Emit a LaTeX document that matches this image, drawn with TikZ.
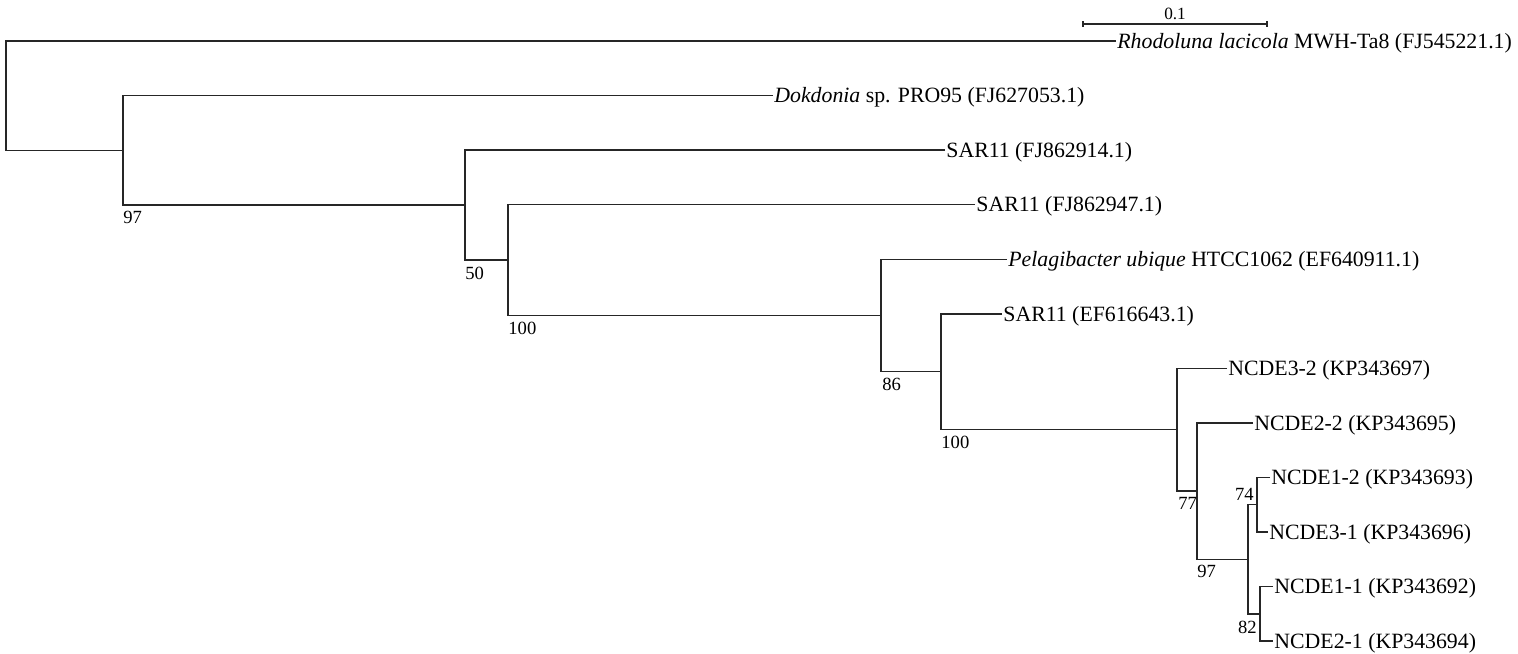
\documentclass[tikz,border=0pt]{standalone}
\usepackage{fontspec}
\setmainfont{Liberation Serif}
\begin{document}
\begin{tikzpicture}[x=0.5pt,y=-0.5pt,
  br/.style={line width=0.7pt,black!85},
  leaf/.style={anchor=base west,inner sep=0pt,xshift=0.5pt,yshift=-3.6pt,font=\fontsize{10.9}{12}\selectfont},
  boot/.style={inner sep=0pt,font=\fontsize{9.3}{10}\selectfont},
  sclab/.style={inner sep=0pt,font=\fontsize{8.6}{9}\selectfont}]
\useasboundingbox (0,0) rectangle (1518,653);
% tips
\coordinate (t1) at (1116,41);
\coordinate (t2) at (773,95.5);
\coordinate (t3) at (945,150.1);
\coordinate (t4) at (975,204.7);
\coordinate (t5) at (1007,259.2);
\coordinate (t6) at (1002,313.8);
\coordinate (t7) at (1227,368.3);
\coordinate (t8) at (1253,422.9);
\coordinate (t9) at (1270,477.4);
\coordinate (t10) at (1268,532);
\coordinate (t11) at (1273,586.5);
\coordinate (t12) at (1273,641);
% internal nodes
\coordinate (J) at (1260,613.8);
\coordinate (I) at (1257,504.7);
\coordinate (H) at (1248,559.2);
\coordinate (G) at (1197,491);
\coordinate (F) at (1177,429.7);
\coordinate (E) at (941,371.7);
\coordinate (D) at (881,315.5);
\coordinate (C) at (508,260.1);
\coordinate (B) at (465,205.1);
\coordinate (A) at (123,150.3);
\coordinate (R) at (6,95.7);
% branches
\draw[br] (t11) -| (J) |- (t12);
\draw[br] (t9) -| (I) |- (t10);
\draw[br] (I) -| (H) |- (J);
\draw[br] (t8) -| (G) |- (H);
\draw[br] (t7) -| (F) |- (G);
\draw[br] (t6) -| (E) |- (F);
\draw[br] (t5) -| (D) |- (E);
\draw[br] (t4) -| (C) |- (D);
\draw[br] (t3) -| (B) |- (C);
\draw[br] (t2) -| (A) |- (B);
\draw[br] (t1) -| (R) |- (A);
% leaf labels
\node[leaf] (l1) at (t1) {\textit{Rhodoluna lacicola} MWH-Ta8 (FJ545221.1)};
\node[leaf] (l2) at (t2) {\textit{Dokdonia} sp. PRO95 (FJ627053.1)};
\node[leaf] (l3) at (t3) {SAR11 (FJ862914.1)};
\node[leaf] (l4) at (t4) {SAR11 (FJ862947.1)};
\node[leaf] (l5) at (t5) {\textit{Pelagibacter ubique} HTCC1062 (EF640911.1)};
\node[leaf] (l6) at (t6) {SAR11 (EF616643.1)};
\node[leaf] (l7) at (t7) {NCDE3-2 (KP343697)};
\node[leaf] (l8) at (t8) {NCDE2-2 (KP343695)};
\node[leaf] (l9) at (t9) {NCDE1-2 (KP343693)};
\node[leaf] (l10) at (t10) {NCDE3-1 (KP343696)};
\node[leaf] (l11) at (t11) {NCDE1-1 (KP343692)};
\node[leaf] (l12) at (t12) {NCDE2-1 (KP343694)};
% bootstrap values
\node[boot,anchor=north west] (bA) at (123,211) {97};
\node[boot,anchor=north west] (bB) at (465,267) {50};
\node[boot,anchor=north west] (bC) at (508,322) {100};
\node[boot,anchor=north west] (bD) at (882,378) {86};
\node[boot,anchor=north west] (bE) at (941,436) {100};
\node[boot,anchor=north west] (bF) at (1178,497) {77};
\node[boot,anchor=north west] (bG) at (1197,565) {97};
\node[boot,anchor=south east] (bI) at (1254,501) {74};
\node[boot,anchor=north east] (bJ) at (1257,621) {82};
% scale bar
\coordinate (s1) at (1083,24);
\coordinate (s2) at (1267,24);
\draw[br] (s1) -- (s2);
\draw[br] ([yshift=1.5pt]s1) -- ([yshift=-1.5pt]s1);
\draw[br] ([yshift=1.5pt]s2) -- ([yshift=-1.5pt]s2);
\node[sclab,anchor=base] (sl) at (1175,19.5) {0.1};
\end{tikzpicture}
\end{document}
